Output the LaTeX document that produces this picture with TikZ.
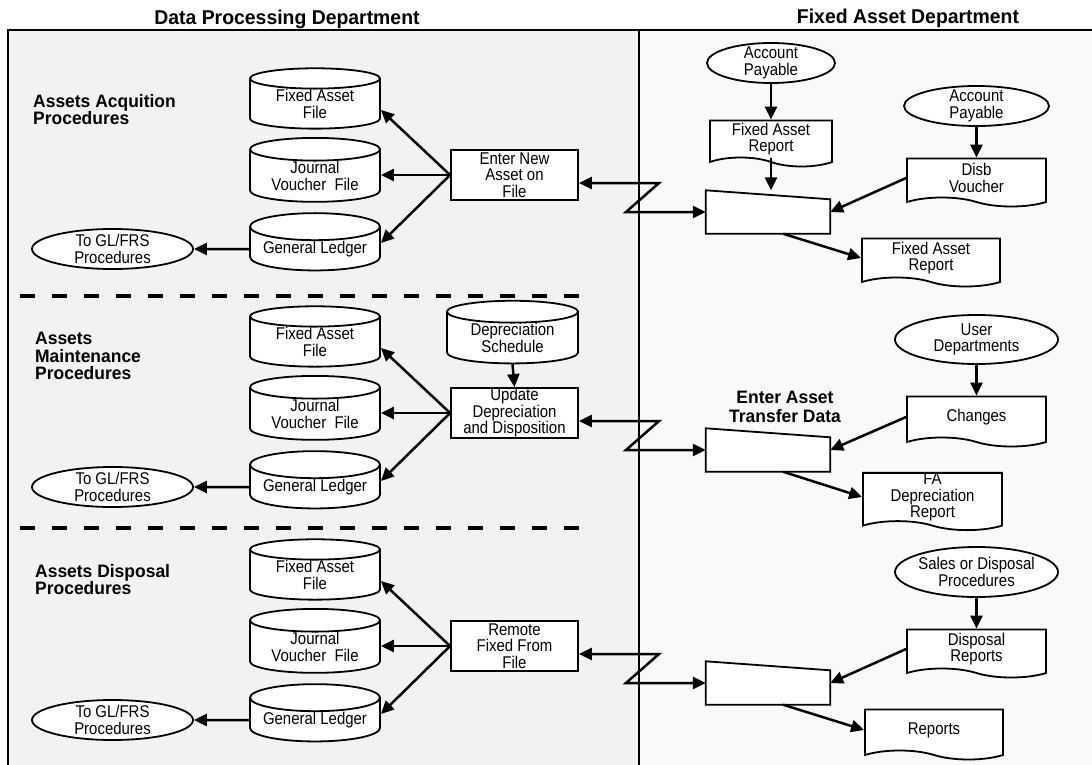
\documentclass[tikz,border=0pt]{standalone}
\usepackage{fontspec}
\setmainfont{Liberation Sans}[FakeStretch=0.88]
\newfontfamily\headfont{Liberation Sans}[FakeStretch=0.97]
\usetikzlibrary{shapes.geometric,shapes.symbols,arrows.meta}

\tikzset{
  body/.style={font=\fontsize{17}{16.5}\selectfont, align=center, inner sep=0pt},
  head/.style={font=\headfont\bfseries\fontsize{18}{17}\selectfont, align=left, inner sep=0pt},
  title/.style={font=\headfont\bfseries\fontsize{20}{20}\selectfont, inner sep=0pt},
  datafile/.style={body, cylinder, shape border rotate=90, aspect=0.26, draw, fill=white,
    line width=1.8pt, minimum width=130pt, minimum height=56pt},
  procbox/.style={body, rectangle, draw, fill=white, line width=1.8pt,
    minimum width=127pt, minimum height=50pt},
  terminal/.style={body, ellipse, draw, fill=white, line width=1.8pt, inner sep=-2.5pt},
  docu/.style={body, tape, tape bend top=none, tape bend bottom=out and in,
    tape bend height=9pt, draw, fill=white, line width=1.8pt},
  manual/.style={rectangle, minimum width=124pt, minimum height=43pt, inner sep=0pt},
  link/.style={line width=2.5pt, -{Triangle[length=13pt,width=12pt]}},
  twoway/.style={line width=2.5pt, {Triangle[length=13pt,width=12pt]}-{Triangle[length=13pt,width=12pt]}},
  divider/.style={line width=4pt, dash pattern=on 15pt off 17pt}
}

\begin{document}
\begin{tikzpicture}[x=1pt,y=-1pt]
\useasboundingbox (0,0) rectangle (1092,765);
% the two departments
\fill[gray!10] (8,30) rectangle (639,775);
\fill[gray!5] (639,30) rectangle (1100,775);
\draw[line width=2pt] (8,775) -- (8,30) -- (1100,30);
\draw[line width=2pt] (639,30) -- (639,775);
\node[title] (dpd) at (287,19) {Data Processing Department};
\node[title] (fad) at (908,18) {Fixed Asset Department};

% procedure labels and separators
\node[head, anchor=west] (acq) at (33,110) {Assets Acquition\\Procedures};
\node[head, anchor=west, font=\headfont\bfseries\fontsize{18}{17.5}\selectfont] (mnt) at (35,356) {Assets\\Maintenance\\Procedures};
\node[head, anchor=west] (dsp) at (35,580) {Assets Disposal\\Procedures};
\draw[divider] (20,296) -- (590,296);
\draw[divider] (20,528) -- (590,528);

% data processing side
\foreach \i/\y/\what in {1/175/{Enter New\\Asset on\\File},
                         2/413/{Update\\Depreciation\\and Disposition},
                         3/646/{Remote\\Fixed From\\File}} {
  \node[procbox] (proc\i) at (514.5,\y) {\what};
  \node[datafile] (fa\i) at (315,\y-71) {Fixed Asset\\File};
  \node[datafile] (jv\i) at (315,\y+1) {Journal\\Voucher\ \ File};
  \node[datafile] (gl\i) at (315,\y+74) {General Ledger};
  \node[terminal, minimum width=161pt, minimum height=40pt] (out\i) at (112.5,\y+74) {To GL/FRS\\Procedures};
  \draw[link] (proc\i.west) -- ([yshift=-6pt]fa\i.east);
  \draw[link] (proc\i.west) -- (jv\i.east |- proc\i.west);
  \draw[link] (proc\i.west) -- ([yshift=6pt]gl\i.east);
  \draw[link] (gl\i.west) -- (out\i.east);
}
\node[datafile, minimum width=131pt, minimum height=50pt] (dep) at (512.5,338) {Depreciation\\Schedule};
\draw[link] (dep.south) -- (proc2.north);

% fixed asset side
\node[terminal, minimum width=128pt, minimum height=40pt] (ap1) at (771,63) {Account\\Payable};
\node[docu, minimum width=122pt, minimum height=46pt] (far1) at (771,139) {Fixed Asset\\Report};
\node[terminal, minimum width=145pt, minimum height=40pt] (ap2) at (976.5,106) {Account\\Payable};
\node[docu, minimum width=139pt, minimum height=48pt] (dv) at (976.5,178) {Disb\\Voucher};
\node[docu, minimum width=138pt, minimum height=48pt] (far2) at (931,258) {Fixed Asset\\Report};

\node[terminal, minimum width=163pt, minimum height=49pt] (ud) at (976.5,339.5) {User\\Departments};
\node[docu, minimum width=139pt, minimum height=50pt] (chg) at (976.5,417) {Changes};
\node[head, align=center, font=\headfont\bfseries\fontsize{18}{18.5}\selectfont] (eat) at (785,407) {Enter Asset\\Transfer Data};
\node[docu, minimum width=139pt, minimum height=48pt] (fdr) at (932.5,497) {FA\\Depreciation\\Report};

\node[terminal, minimum width=163pt, minimum height=50pt] (sdp) at (976.5,572) {Sales or Disposal\\Procedures};
\node[docu, minimum width=139pt, minimum height=48pt] (drp) at (976.5,649) {Disposal\\Reports};
\node[docu, minimum width=138pt, minimum height=50pt] (rpt) at (934,730) {Reports};

\foreach \i/\y in {1/175,2/413,3/646} {
  \node[manual] (mi\i) at (768,\y+37) {};
  \draw[line width=1.8pt, fill=white] (mi\i.north west) -- ([yshift=-9pt]mi\i.north east)
    -- (mi\i.south east) -- (mi\i.south west) -- cycle;
  \coordinate (zt\i) at (659,\y+8);
  \coordinate (zb\i) at (626,\y+37);
  \draw[twoway] (proc\i.east |- zt\i) -- (zt\i) -- (zb\i) -- (mi\i.west);
}

\draw[link] (ap1.south) -- (far1.north);
\draw[link] (far1.south) -- (far1.south |- mi1.north);
\foreach \i/\src/\doc/\res in {1/ap2/dv/far2, 2/ud/chg/fdr, 3/sdp/drp/rpt} {
  \draw[link] (\src.south) -- (\doc.north);
  \draw[link] (\doc.west) -- (mi\i.east);
  \draw[link] ([xshift=15pt]mi\i.south) -- (\res.west);
}
\end{tikzpicture}
\end{document}
